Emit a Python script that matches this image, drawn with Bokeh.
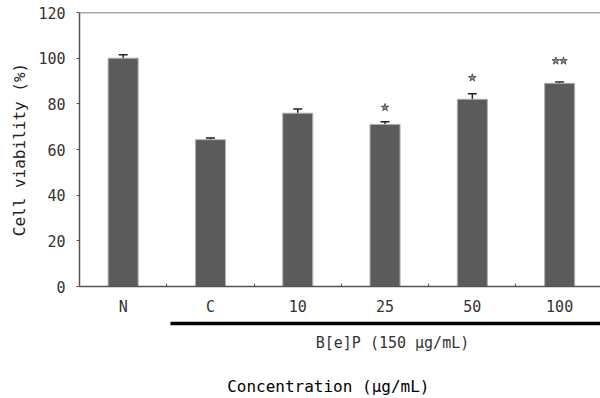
from bokeh.plotting import figure
from bokeh.models import Range1d, FixedTicker, LinearAxis, Whisker, ColumnDataSource, Span
from bokeh.embed import file_html
from bokeh.resources import INLINE

categories = ["N", "C", "10", "25", "50", "100"]
viability = [100.0, 64.3, 75.9, 71.0, 82.0, 89.0]
errors = [1.5, 0.7, 1.8, 1.1, 2.4, 0.6]
sig_marks = ["", "", "", "*", "*", "**"]
y_ticks = [0, 20, 40, 60, 80, 100, 120]
group_label = "B[e]P (150 μg/mL)"
x_title = "Concentration (μg/mL)"

FONT = "DejaVu Sans Mono"
AX = "#555555"
X_END = 5.968

xs = [i + 0.5 for i in range(len(categories))]

p = figure(frame_width=521, frame_height=274, output_backend="svg", toolbar_location=None,
           x_range=Range1d(0, X_END), y_range=Range1d(0, 120),
           min_border_left=0, min_border_right=0, min_border_top=0, min_border_bottom=0)
p.grid.visible = False
p.outline_line_color = None
p.background_fill_color = "white"
ya = p.yaxis[0]
xa = p.xaxis[0]

src = ColumnDataSource(dict(x=xs, top=viability,
                            upper=[v + e for v, e in zip(viability, errors)],
                            lower=[v - e for v, e in zip(viability, errors)]))
p.vbar(x="x", top="top", bottom=0, width=0.344, source=src,
       fill_color="#5b5b5b", line_color="#b0b0b0", line_width=1)

w = Whisker(base="x", upper="upper", lower="lower", source=src,
            line_color="#222222", line_width=1.5)
for h in (w.upper_head, w.lower_head):
    h.size = 9
    h.line_color = "#222222"
    h.line_width = 1.5
p.add_layout(w)

# significance stars
sx, sy = [], []
star_y = {3: 78.4, 4: 91.4, 5: 98.8}
for i, m in enumerate(sig_marks):
    n = len(m)
    for k in range(n):
        off = (k - (n - 1) / 2) * 0.088
        sx.append(xs[i] + off)
        sy.append(star_y[i])
p.scatter(sx, sy, marker="star", size=8, fill_color="#8c8c8c",
          line_color="#3a3a3a", line_width=0.8)

# top frame line
p.add_layout(Span(location=120, dimension="width", line_color=AX, line_width=1.5))


def spacer_axis(pad):
    a = LinearAxis(ticker=FixedTicker(ticks=[]))
    a.axis_line_color = None
    a.major_tick_line_color = None
    a.minor_tick_line_color = None
    a.major_tick_in = 0
    a.major_tick_out = 0
    a.minor_tick_in = 0
    a.minor_tick_out = 0
    a.major_label_standoff = 0
    a.axis_label = " "
    a.axis_label_text_font_size = "1px"
    a.axis_label_standoff = pad
    return a


# y axis
ya.ticker = FixedTicker(ticks=y_ticks)
ya.axis_line_color = AX
ya.axis_line_width = 1.5
ya.major_tick_line_color = AX
ya.major_tick_in = 0
ya.major_tick_out = 3
ya.minor_tick_line_color = None
ya.major_label_text_font = FONT
ya.major_label_text_font_size = "15px"
ya.major_label_text_color = "#333333"
ya.major_label_standoff = 11
ya.axis_label = "Cell viability (%)"
ya.axis_label_text_font = FONT
ya.axis_label_text_font_size = "16px"
ya.axis_label_text_font_style = "normal"
ya.axis_label_text_color = "#222222"
ya.axis_label_standoff = 6

# category axis
xa.ticker = FixedTicker(ticks=xs, minor_ticks=[1, 2, 3, 4, 5])
xa.major_label_overrides = {x: c for x, c in zip(xs, categories)}
xa.axis_line_color = AX
xa.axis_line_width = 1.5
xa.major_tick_line_color = None
xa.minor_tick_line_color = AX
xa.minor_tick_in = 3
xa.minor_tick_out = 0
xa.major_label_text_font = FONT
xa.major_label_text_font_size = "15px"
xa.major_label_text_color = "#333333"
xa.major_label_standoff = 5
xa.axis_label = " "
xa.axis_label_text_font_size = "2px"
xa.axis_label_standoff = 0

p.add_layout(spacer_axis(3), "left")
p.add_layout(spacer_axis(8), "above")

# group bracket axis
gpos = 3.585
ga = LinearAxis(bounds=(1.04, X_END), ticker=FixedTicker(ticks=[gpos]),
                major_label_overrides={gpos: group_label})
ga.axis_line_color = "black"
ga.axis_line_width = 3.5
ga.major_tick_line_color = None
ga.major_tick_in = 0
ga.major_tick_out = 0
ga.minor_tick_line_color = None
ga.major_label_text_font = FONT
ga.major_label_text_font_size = "15px"
ga.major_label_text_color = "#333333"
ga.major_label_standoff = 10
p.add_layout(ga, "below")

# x title axis
tpos = 2.85
ta = LinearAxis(ticker=FixedTicker(ticks=[tpos]), major_label_overrides={tpos: x_title})
ta.axis_line_color = None
ta.major_tick_line_color = None
ta.major_tick_in = 0
ta.major_tick_out = 0
ta.minor_tick_line_color = None
ta.major_label_text_font = FONT
ta.major_label_text_font_size = "16px"
ta.major_label_text_color = "#000000"
ta.major_label_standoff = 22
p.add_layout(ta, "below")

open("out.html", "w").write(file_html(p, INLINE))
